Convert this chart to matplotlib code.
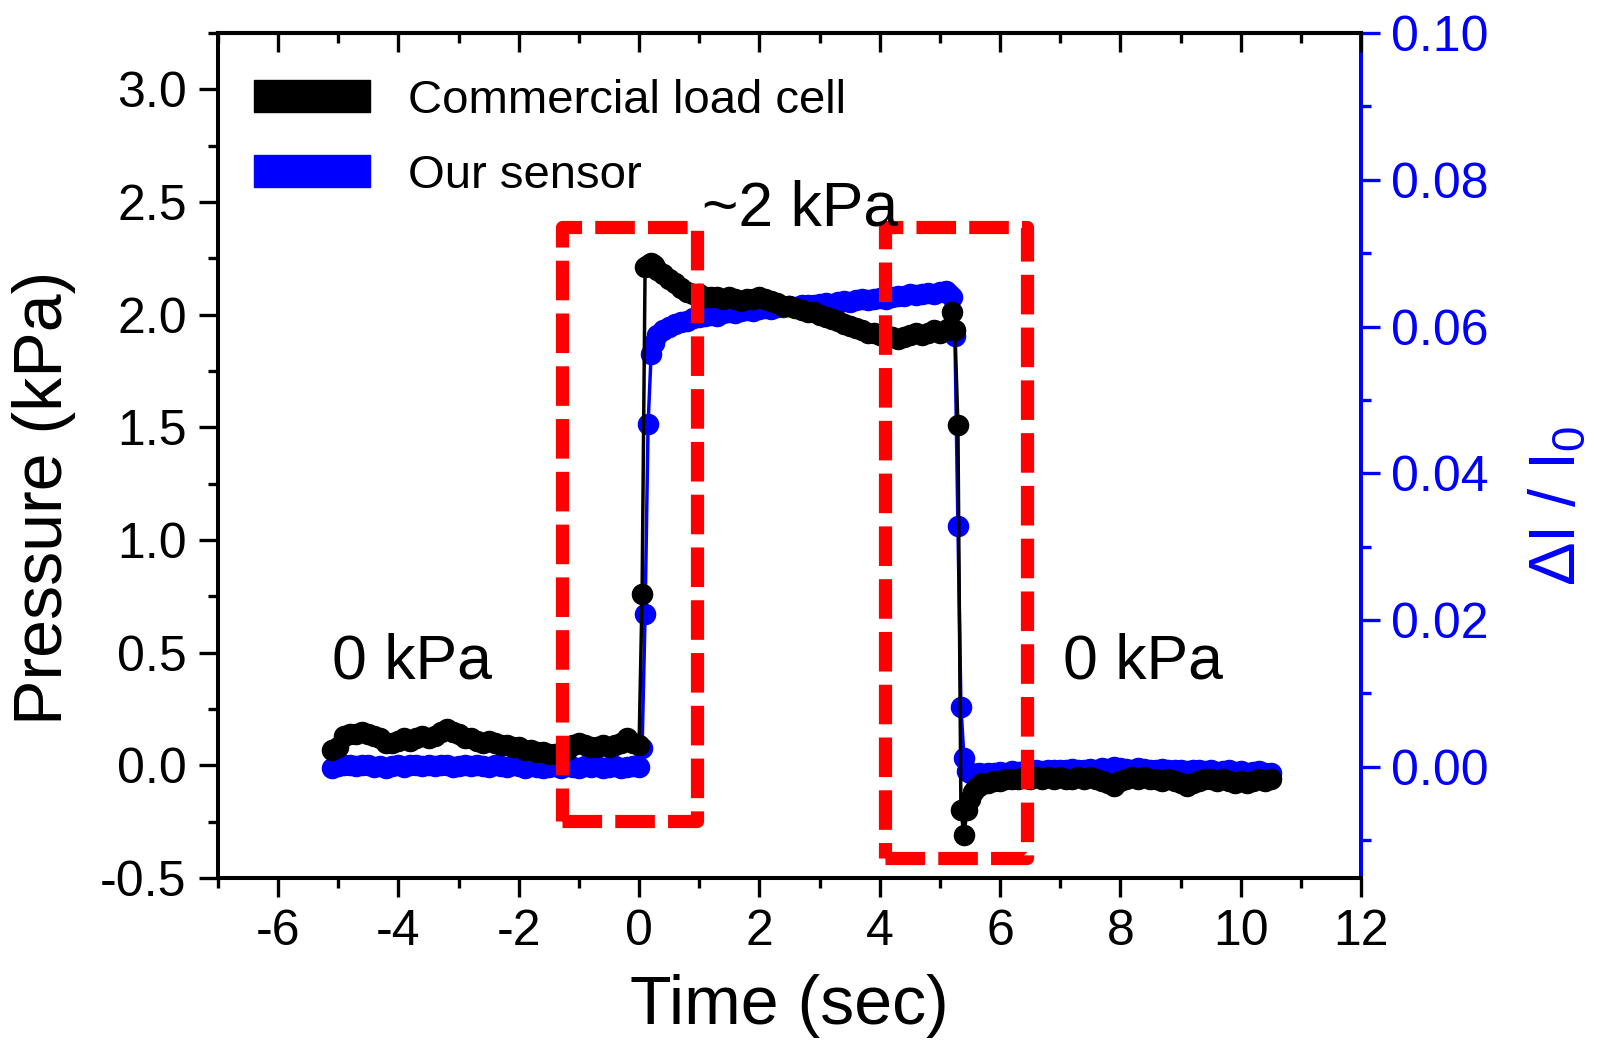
import numpy as np
import matplotlib
matplotlib.use("Agg")
import matplotlib.pyplot as plt
from matplotlib.patches import Rectangle, Patch
from matplotlib.ticker import MultipleLocator, FormatStrFormatter, NullFormatter

plt.rcParams["font.family"] = ["Liberation Sans", "DejaVu Sans"]
plt.rcParams["mathtext.fontset"] = "custom"
plt.rcParams["mathtext.rm"] = "Liberation Sans"
plt.rcParams["axes.unicode_minus"] = False

# ---- sampling times (s) ----
t_pre = np.round(np.arange(-5.1, 0.001, 0.1), 2)
t_rise = np.array([0.05, 0.10, 0.15, 0.20, 0.25, 0.30])
t_hold = np.round(np.arange(0.4, 5.101, 0.1), 2)
t_fall = np.array([5.15, 5.20, 5.25, 5.30, 5.35, 5.40, 5.45, 5.50, 5.55, 5.60, 5.65])
t_post = np.round(np.arange(5.7, 10.501, 0.1), 2)

# ---- commercial load cell, pressure (kPa) ----
load_pre = [0.07, 0.08, 0.13, 0.14, 0.14, 0.15, 0.14, 0.13, 0.12, 0.10,
            0.10, 0.11, 0.12, 0.11, 0.12, 0.13, 0.12, 0.13, 0.15, 0.16,
            0.15, 0.14, 0.12, 0.12, 0.11, 0.10, 0.11, 0.10, 0.09, 0.09,
            0.08, 0.08, 0.07, 0.07, 0.06, 0.06, 0.05, 0.05, 0.05, 0.07,
            0.09, 0.10, 0.09, 0.08, 0.08, 0.09, 0.08, 0.09, 0.10, 0.12,
            0.10, 0.09]
load_rise = [0.76, 2.21, 2.22, 2.23, 2.22, 2.20]
load_hold = [2.18, 2.16, 2.14, 2.12, 2.10, 2.09, 2.09, 2.08, 2.08, 2.08,
             2.07, 2.08, 2.07, 2.06, 2.07, 2.07, 2.08, 2.07, 2.06, 2.05,
             2.04, 2.04, 2.03, 2.02, 2.01, 2.01, 2.00, 1.99, 1.98, 1.97,
             1.96, 1.95, 1.94, 1.93, 1.92, 1.92, 1.91, 1.91, 1.90, 1.89,
             1.90, 1.91, 1.92, 1.91, 1.92, 1.93, 1.92, 1.93]
load_fall = [1.94, 2.01, 1.93, 1.51, -0.20, -0.31, -0.20, -0.15, -0.12, -0.10, -0.09]
load_post = [-0.08, -0.08, -0.07, -0.07, -0.06, -0.06, -0.06, -0.05, -0.06, -0.05,
             -0.06, -0.05, -0.06, -0.05, -0.06, -0.06, -0.05, -0.06, -0.05, -0.06,
             -0.07, -0.08, -0.09, -0.07, -0.06, -0.05, -0.06, -0.05, -0.06, -0.06,
             -0.07, -0.06, -0.07, -0.08, -0.09, -0.08, -0.07, -0.06, -0.06, -0.07,
             -0.06, -0.07, -0.08, -0.07, -0.08, -0.07, -0.06, -0.07, -0.06]

# ---- our sensor, relative current change dI/I0 ----
sens_pre = [-0.0002, 0.0001, 0.0003, 0.0002, 0.0001, 0.0003, 0.0002, 0.0000, 0.0001, -0.0001,
            0.0001, 0.0002, 0.0000, 0.0002, 0.0003, 0.0001, 0.0002, 0.0001, 0.0003, 0.0002,
            0.0000, 0.0001, 0.0002, 0.0001, 0.0003, 0.0001, 0.0000, 0.0002, 0.0001, 0.0000,
            0.0002, 0.0001, -0.0001, 0.0001, 0.0000, -0.0002, 0.0000, 0.0001, -0.0001, 0.0001,
            0.0000, -0.0001, 0.0001, 0.0000, 0.0001, -0.0001, 0.0000, 0.0001, -0.0001, 0.0000,
            0.0001, 0.0000]
sens_rise = [0.0025, 0.0208, 0.0467, 0.0562, 0.0578, 0.0588]
sens_hold = [0.0595, 0.0600, 0.0603, 0.0606, 0.0608, 0.0611, 0.0613, 0.0614, 0.0616, 0.0615,
             0.0618, 0.0620, 0.0619, 0.0621, 0.0622, 0.0621, 0.0624, 0.0625, 0.0624, 0.0626,
             0.0627, 0.0628, 0.0627, 0.0629, 0.0630, 0.0629, 0.0631, 0.0632, 0.0631, 0.0633,
             0.0635, 0.0634, 0.0636, 0.0637, 0.0636, 0.0638, 0.0639, 0.0638, 0.0640, 0.0641,
             0.0642, 0.0644, 0.0643, 0.0645, 0.0646, 0.0645, 0.0647, 0.0648]
sens_fall = [0.0645, 0.0640, 0.0587, 0.0328, 0.0082, 0.0012, -0.0006, -0.0009, -0.0010, -0.0010, -0.0009]
sens_post = [-0.0010, -0.0009, -0.0008, -0.0007, -0.0008, -0.0006, -0.0007, -0.0006, -0.0007, -0.0005,
             -0.0006, -0.0004, -0.0005, -0.0004, -0.0005, -0.0003, -0.0005, -0.0004, -0.0003, -0.0004,
             -0.0002, -0.0003, 0.0000, -0.0001, -0.0003, -0.0004, -0.0002, -0.0003, -0.0004, -0.0005,
             -0.0003, -0.0004, -0.0005, -0.0004, -0.0006, -0.0005, -0.0004, -0.0006, -0.0005, -0.0007,
             -0.0006, -0.0005, -0.0007, -0.0006, -0.0008, -0.0007, -0.0006, -0.0008, -0.0009]

time = np.concatenate([t_pre, t_rise, t_hold, t_fall, t_post])
pressure = np.concatenate([load_pre, load_rise, load_hold, load_fall, load_post])
current = np.concatenate([sens_pre, sens_rise, sens_hold, sens_fall, sens_post])

# highlighted transition windows: (t_start, t_end, p_low, p_high)
windows = [(-1.28, 0.965, -0.247, 2.39), (4.08, 6.44, -0.41, 2.39)]

# annotations: (text, t, p)
notes = [("0 kPa", -5.1, 0.46), ("~2 kPa", 1.04, 2.47), ("0 kPa", 7.05, 0.46)]

BLUE = "#0000ff"
fig = plt.figure(figsize=(16.12, 10.41), dpi=100)
ax = fig.add_axes([0.1352, 0.1566, 0.8443 - 0.1352, 0.9683 - 0.1566])
ax2 = ax.twinx()

ax.plot(time, pressure, color="black", lw=2.5, marker="o", ms=14.5, mec="black", zorder=3)
ax2.plot(time, current, color=BLUE, lw=2.5, marker="o", ms=14.5, mec=BLUE, zorder=3)

for t0, t1, p0, p1 in windows:
    ax.add_patch(Rectangle((t0, p0), t1 - t0, p1 - p0, fill=False, edgecolor="#ff0000",
                           lw=9.5, linestyle=(0, (3, 1)), joinstyle="round", zorder=5,
                           clip_on=False))

for txt, tx, py in notes:
    ax.text(tx, py, txt, fontsize=45, ha="left", va="center", zorder=6)

ax.set_xlim(-7, 12)
ax.set_ylim(-0.5, 3.25)
ax2.set_ylim(-0.01515, 0.10)

ax.xaxis.set_major_locator(MultipleLocator(2))
ax.xaxis.set_minor_locator(MultipleLocator(1))
ax.yaxis.set_major_locator(MultipleLocator(0.5))
ax.yaxis.set_minor_locator(MultipleLocator(0.25))
ax.yaxis.set_major_formatter(FormatStrFormatter("%.1f"))
ax2.yaxis.set_major_locator(MultipleLocator(0.02))
ax2.yaxis.set_minor_locator(MultipleLocator(0.01))
ax2.yaxis.set_major_formatter(FormatStrFormatter("%.2f"))

for a in (ax, ax2):
    for s in a.spines.values():
        s.set_linewidth(2.9)
ax2.spines["right"].set_color(BLUE)
ax.spines["right"].set_visible(False)
ax2.spines["left"].set_visible(False)

ax.tick_params(axis="both", which="major", direction="out", length=13.5, width=2.4,
               labelsize=36, pad=9, top=False, right=False)
ax.tick_params(axis="both", which="minor", direction="out", length=7, width=2.4,
               top=False, right=False)
ax2.tick_params(axis="y", which="major", direction="out", length=13.5, width=2.4,
                labelsize=36, pad=8, colors=BLUE)
ax2.tick_params(axis="y", which="minor", direction="out", length=7, width=2.4, colors=BLUE)

# inward ticks along the top edge
top = ax.secondary_xaxis("top")
top.xaxis.set_major_locator(MultipleLocator(2))
top.xaxis.set_minor_locator(MultipleLocator(1))
top.xaxis.set_major_formatter(NullFormatter())
top.tick_params(which="major", direction="in", length=13.5, width=2.4)
top.tick_params(which="minor", direction="in", length=7, width=2.4)
top.spines["top"].set_linewidth(2.9)

ax.set_xlabel("Time (sec)", fontsize=49, va="center")
ax.xaxis.set_label_coords(0.5, -0.152)
ax.set_ylabel("Pressure (kPa)", fontsize=49, va="center")
ax.yaxis.set_label_coords(-0.152, 0.45)
ax2.set_ylabel(r"ΔI / I$_\mathregular{0}$", fontsize=47, color=BLUE, va="center")
ax2.yaxis.set_label_coords(1.172, 0.44)

handles = [Patch(facecolor="black", edgecolor="black"), Patch(facecolor=BLUE, edgecolor=BLUE)]
ax.legend(handles, ["Commercial load cell", "Our sensor"], loc="upper left",
          bbox_to_anchor=(0.003, 0.985), frameon=False, fontsize=34,
          handlelength=2.45, handleheight=0.66, handletextpad=0.8, labelspacing=0.66,
          borderaxespad=0.3)
ax.set_zorder(ax2.get_zorder() + 1)
ax.patch.set_visible(False)

fig.savefig("out.png", dpi=100)
